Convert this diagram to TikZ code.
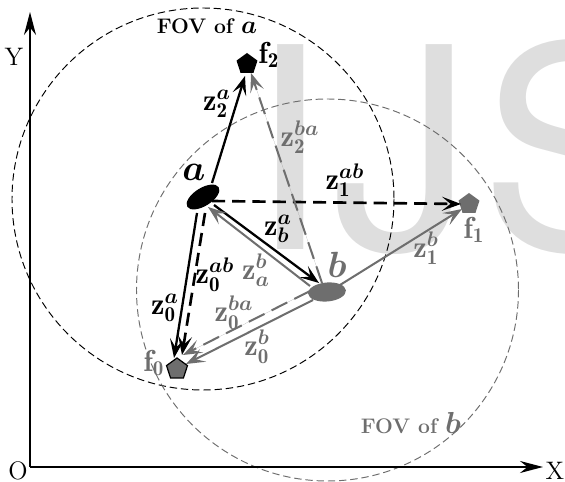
\documentclass[tikz,border=0pt]{standalone}
\usepackage{fontspec}
\usepackage{bm}
\newfontfamily\markfont{TeX Gyre Heros}
\usetikzlibrary{arrows.meta,shapes.geometric}
\definecolor{fovGray}{HTML}{6E6E6E}
\definecolor{fovMark}{HTML}{DEDEDE}
\tikzset{
  fov axis/.style={draw=black, line width=1.1pt, -{Stealth[length=4.6mm,width=2.4mm,inset=1.5mm]}},
  fov circle/.style={line width=0.55pt, dash pattern=on 4.2pt off 2.2pt},
  obs/.style={line width=1.3pt, -{Stealth[length=3.8mm,width=2.8mm,inset=1.7mm]}},
  obs dash/.style={obs, line width=1.5pt, dash pattern=on 7.5pt off 4pt},
  obs gray/.style={obs, draw=fovGray, fill=fovGray, line width=1.15pt},
  obs gray dash/.style={obs gray, dash pattern=on 10pt off 4.5pt},
  robot/.style={ellipse, inner sep=0pt},
  landmark/.style={regular polygon, regular polygon sides=5, inner sep=0pt, minimum size=0.44cm},
  mark letter/.style={anchor=base west, inner sep=0pt, text=fovMark, font=\markfont\fontsize{160pt}{160pt}\selectfont},
  lab/.style={font=\LARGE, text=black, inner sep=0pt},
  lab gray/.style={lab, text=fovGray},
  axis lab/.style={font=\Large, inner sep=0pt},
}

\begin{document}
\begin{tikzpicture}[x=0.02cm,y=-0.02cm]
  \useasboundingbox (0,0) rectangle (565,482);
  % Pale letters behind everything
  \begin{scope}
    \clip (0,0) rectangle (565,482);
    \node[mark letter] (markI) at (249,250) {I};
    \node[mark letter] (markJ) at (332,250) {J};
    \node[mark letter] (markS) at (480,250) {S};
  \end{scope}
  % Fields of view
  \draw[fov circle, draw=black] (203,199) circle (191);
  \draw[fov circle, draw=fovGray] (327.5,290) circle (191);
  % Axes
  \coordinate (orig) at (30,467);
  \coordinate (xtip) at (543,467);
  \coordinate (ytip) at (30,12);
  \draw[fov axis] (orig) -- (xtip);
  \draw[fov axis] (orig) -- (ytip);
  \node[axis lab] (xlab) at (555,471) {X};
  \node[axis lab] (ylab) at (14,57) {Y};
  \node[axis lab] (olab) at (18,471) {O};
  % Robots and landmarks
  \node[robot, fill=black, rotate=32, minimum width=0.74cm, minimum height=0.36cm] (a) at (203,197) {};
  \node[robot, fill=fovGray, rotate=5, minimum width=0.76cm, minimum height=0.38cm] (b) at (327,292) {};
  \node[landmark, fill=fovGray, draw=black, line width=0.7pt] (f0) at (177,369) {};
  \node[landmark, fill=fovGray] (f1) at (469,204) {};
  \node[landmark, fill=black] (f2) at (247,64) {};
  % Measurements of a
  \draw[obs] ([shift={(9,-14)}]a.center) -- ([shift={(-2,12)}]f2.center);
  \draw[obs] ([shift={(-6,16)}]a.center) -- ([shift={(-3,-11)}]f0.center);
  \draw[obs dash] ([shift={(9,4)}]a.center) -- ([shift={(-8,0)}]f1.center);
  \draw[obs dash] ([shift={(2,16)}]a.center) -- ([shift={(5,-14)}]f0.center);
  \draw[obs] ([shift={(11,8)}]a.center) -- ([shift={(-8,-9)}]b.center);
  % Measurements of b
  \draw[obs gray] ([shift={(13,-7)}]b.center) -- ([shift={(-7,5)}]f1.center);
  \draw[obs gray] ([shift={(-14,8)}]b.center) -- ([shift={(9,-5)}]f0.center);
  \draw[obs gray] ([shift={(-17,-6)}]b.center) -- ([shift={(5,10)}]a.center);
  \draw[obs gray dash] ([shift={(-5,-9)}]b.center) -- ([shift={(4,9)}]f2.center);
  \draw[obs gray dash] ([shift={(-17,-1)}]b.center) -- ([shift={(6,-14)}]f0.center);
  % Labels
  \node[inner sep=0pt, font=\large\bfseries] (fova) at (207,26) {FOV of {\Large$\bm{a}$}};
  \node[inner sep=0pt, text=fovGray, font=\large\bfseries] (fovb) at (411,423) {FOV of {\LARGE$\bm{b}$}};
  \node[lab, font=\huge] (la) at (194,172) {$\bm{a}$};
  \node[lab gray, font=\huge] (lb) at (337,265) {$\bm{b}$};
  \node[lab] (lf2) at (269,55) {$\mathbf{f}_{\mathbf{2}}$};
  \node[lab gray] (lf1) at (474,230) {$\mathbf{f}_{\mathbf{1}}$};
  \node[lab gray] (lf0) at (154,363) {$\mathbf{f}_{\mathbf{0}}$};
  \node[lab] (z2a) at (217,104) {$\mathbf{z}_{\mathbf{2}}^{\bm{a}}$};
  \node[lab] (z0a) at (165,308) {$\mathbf{z}_{\mathbf{0}}^{\bm{a}}$};
  \node[lab] (zba) at (278,229) {$\mathbf{z}_{\bm{b}}^{\bm{a}}$};
  \node[lab] (z1ab) at (345,180) {$\mathbf{z}_{\mathbf{1}}^{\bm{ab}}$};
  \node[lab] (z0ab) at (215,275) {$\mathbf{z}_{\mathbf{0}}^{\bm{ab}}$};
  \node[lab gray] (z2ba) at (300,137) {$\mathbf{z}_{\mathbf{2}}^{\bm{ba}}$};
  \node[lab gray] (z0ba) at (234,313) {$\mathbf{z}_{\mathbf{0}}^{\bm{ba}}$};
  \node[lab gray] (zab) at (256,270) {$\mathbf{z}_{\bm{a}}^{\bm{b}}$};
  \node[lab gray] (z1b) at (426,248) {$\mathbf{z}_{\mathbf{1}}^{\bm{b}}$};
  \node[lab gray] (z0b) at (257,347) {$\mathbf{z}_{\mathbf{0}}^{\bm{b}}$};
\end{tikzpicture}
\end{document}
